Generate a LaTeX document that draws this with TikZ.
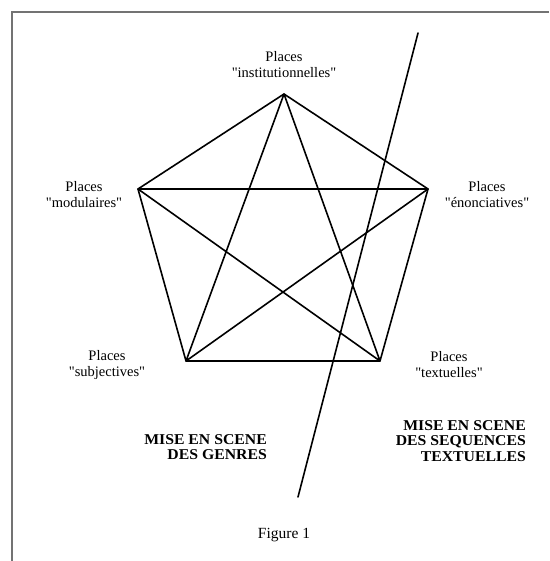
\documentclass[tikz,border=0pt]{standalone}
\usepackage{fontspec}
\setmainfont{Liberation Serif}[Ligatures=TeXOff]
\newfontfamily\capsfont[FakeStretch=1.05]{Liberation Serif}
\usepackage{tikz}
\newcommand{\dq}[1]{\char34 #1\char34}

\begin{document}
\begin{tikzpicture}[x=1pt,y=-1pt,font=\fontsize{14.5}{16}\selectfont,
		place/.style={align=center,inner sep=0pt},
		scene/.style={align=right,inner sep=0pt,anchor=east,font=\capsfont\bfseries\fontsize{15}{15.5}\selectfont},
		edge/.style={line width=1.6pt,line cap=round,line join=round}]
		\useasboundingbox (0,0) rectangle (549,561);
		\draw[line width=2pt,black!55] (549,12) -- (12,12) -- (12,561);
		\coordinate (inst) at (284,94);
		\coordinate (enon) at (428,189);
		\coordinate (text) at (380,361);
		\coordinate (subj) at (186,361);
		\coordinate (modu) at (138,189);
		\draw[edge] (inst) -- (enon) -- (text) -- (subj) -- (modu) -- cycle;
		\draw[edge] (inst) -- (subj) (inst) -- (text) (modu) -- (enon) (modu) -- (text) (enon) -- (subj);
		\coordinate (cuttop) at (418,33);
		\coordinate (cutbot) at (298,497);
		\draw[edge] (cuttop) -- (cutbot);
		\node[place] (instlbl) at (284,65) {Places\\\dq{institutionnelles}};
		\node[place] (modulbl) at (84,195) {Places\\\dq{modulaires}};
		\node[place] (enonlbl) at (487,195) {Places\\\dq{énonciatives}};
		\node[place] (subjlbl) at (107,365) {Places\\\dq{subjectives}};
		\node[place] (textlbl) at (449,365) {Places\\\dq{textuelles}};
		\node[scene] (genres) at (267,447) {MISE EN SCENE\\DES GENRES};
		\node[scene] (sequences) at (526,441) {MISE EN SCENE\\DES SEQUENCES\\TEXTUELLES};
		\node[place,font=\fontsize{15.5}{17}\selectfont] (caption) at (284,535) {Figure 1};
	\end{tikzpicture}
\end{document}
